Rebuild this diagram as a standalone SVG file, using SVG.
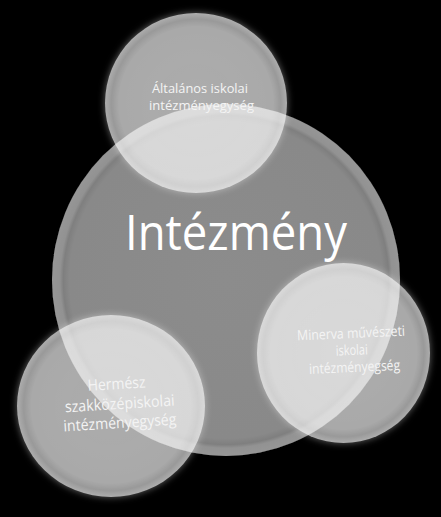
<svg xmlns="http://www.w3.org/2000/svg" width="441" height="517" viewBox="0 0 441 517">
  <style>
    .lbl { font-family: "Open Sans", "Liberation Sans", sans-serif; fill: #f4f4f4; text-anchor: middle; }
    .main { font-family: "Open Sans", "Liberation Sans", sans-serif; fill: #ffffff; text-anchor: middle; font-size: 50px; }
    .small { fill: url(#smallGrad); filter: url(#glow); }
  </style>
  <defs>
    <radialGradient id="bigGrad" cx="0.5" cy="0.5" r="0.5">
      <stop offset="0" stop-color="#8c8c8c"/>
      <stop offset="0.9" stop-color="#898989"/>
      <stop offset="0.935" stop-color="#7f7f7f"/>
      <stop offset="0.955" stop-color="#929292"/>
      <stop offset="1" stop-color="#969696"/>
    </radialGradient>
    <radialGradient id="smallGrad" cx="0.5" cy="0.5" r="0.5">
      <stop offset="0" stop-color="#ffffff" stop-opacity="0.62"/>
      <stop offset="0.85" stop-color="#ffffff" stop-opacity="0.6"/>
      <stop offset="0.93" stop-color="#ffffff" stop-opacity="0.52"/>
      <stop offset="0.97" stop-color="#ffffff" stop-opacity="0.6"/>
      <stop offset="1" stop-color="#ffffff" stop-opacity="0.66"/>
    </radialGradient>
    <filter id="glow" x="-20%" y="-20%" width="140%" height="140%">
      <feGaussianBlur in="SourceAlpha" stdDeviation="3.5" result="b"/>
      <feFlood flood-color="#ffffff" flood-opacity="0.65"/>
      <feComposite in2="b" operator="in" result="g"/>
      <feComposite in="g" in2="SourceAlpha" operator="out" result="go"/>
      <feMerge>
        <feMergeNode in="go"/>
        <feMergeNode in="SourceGraphic"/>
      </feMerge>
    </filter>
    <filter id="shadow" x="-20%" y="-20%" width="140%" height="140%">
      <feGaussianBlur in="SourceAlpha" stdDeviation="4" result="b"/>
      <feOffset dy="3" in="b" result="o"/>
      <feFlood flood-color="#000000" flood-opacity="0.8"/>
      <feComposite in2="o" operator="in" result="s"/>
      <feMerge>
        <feMergeNode in="s"/>
        <feMergeNode in="SourceGraphic"/>
      </feMerge>
    </filter>
  </defs>
  <rect x="0" y="0" width="441" height="517" fill="#000000"/>

  <g id="connectors"/>

  <g id="node-intezmeny">
    <ellipse cx="226" cy="280" rx="174" ry="176" fill="url(#bigGrad)" filter="url(#shadow)"/>
  </g>

  <g id="node-altalanos">
    <ellipse class="small" cx="196" cy="103" rx="91" ry="90"/>
  </g>

  <g id="node-minerva">
    <ellipse class="small" cx="343.5" cy="353" rx="86.5" ry="90"/>
  </g>

  <g id="node-hermesz">
    <ellipse class="small" cx="111" cy="406" rx="94" ry="91"/>
  </g>

  <g id="labels">
    <text class="main" x="236" y="250" textLength="222" lengthAdjust="spacingAndGlyphs">Intézmény</text>

    <text class="lbl" font-size="12.5" x="200" y="93" textLength="96" lengthAdjust="spacingAndGlyphs">Általános iskolai</text>
    <text class="lbl" font-size="12.5" x="201.5" y="110" textLength="105" lengthAdjust="spacingAndGlyphs">intézményegység</text>

    <g transform="rotate(-2.5 352 355)">
      <text class="lbl" font-size="14" x="352" y="338" textLength="108" lengthAdjust="spacingAndGlyphs">Minerva művészeti</text>
      <text class="lbl" font-size="14" x="352" y="355" textLength="32" lengthAdjust="spacingAndGlyphs">iskolai</text>
      <text class="lbl" font-size="14" x="354" y="372" textLength="91" lengthAdjust="spacingAndGlyphs">intézményegség</text>
    </g>

    <g transform="rotate(-3.5 119 408)">
      <text class="lbl" font-size="15.5" x="118" y="389" textLength="58" lengthAdjust="spacingAndGlyphs">Hermész</text>
      <text class="lbl" font-size="15.5" x="120" y="409" textLength="110" lengthAdjust="spacingAndGlyphs">szakközépiskolai</text>
      <text class="lbl" font-size="15.5" x="119" y="428" textLength="113" lengthAdjust="spacingAndGlyphs">intézményegység</text>
    </g>
  </g>
</svg>
